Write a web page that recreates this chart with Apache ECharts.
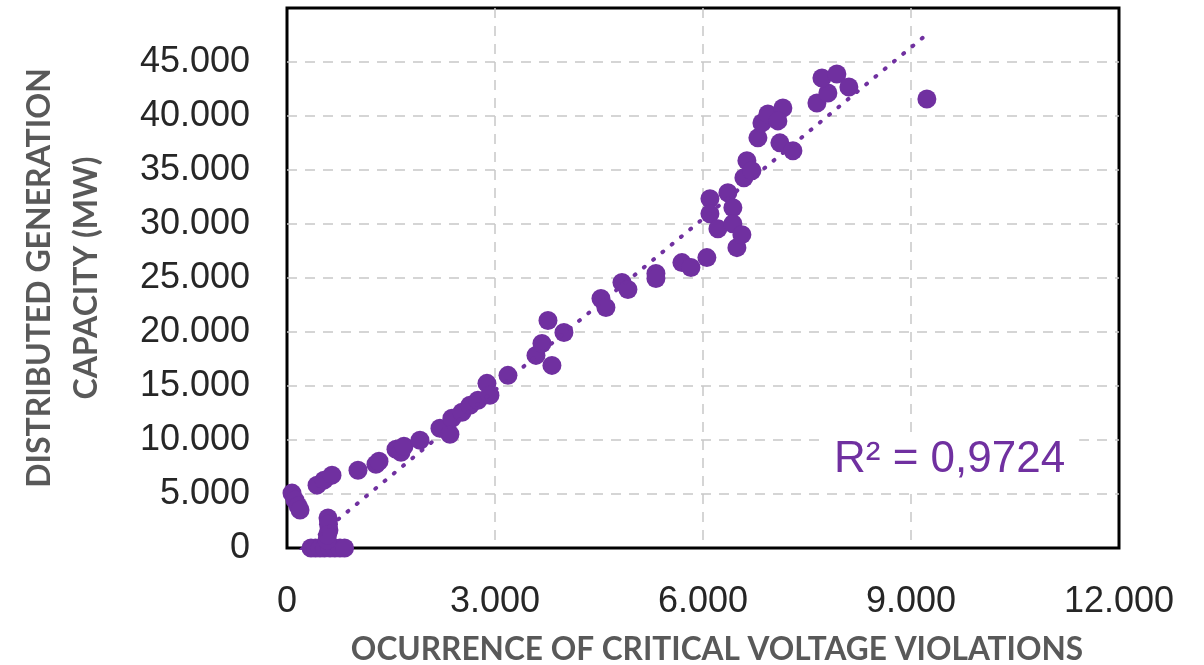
<!DOCTYPE html>
<html>
<head>
<meta charset="utf-8">
<title>DG capacity vs voltage violations</title>
<script src="https://cdn.jsdelivr.net/npm/echarts@6/dist/echarts.min.js"></script>
<style>
  html, body { margin: 0; padding: 0; background: #fff; }
  #chart { width: 1204px; height: 665px; }
</style>
</head>
<body>
<div id="chart"></div>
<script>
// occurrences of critical voltage violations (x) / DG capacity in MW (y)
const violations = [
  72, 115, 160, 188, 433, 534, 649, 1024, 1283, 1327, 1572, 1644, 1687, 1918,
  2206, 2350, 2379, 2524, 2639, 2754, 2884, 2927, 3187, 3591, 3677, 3821,
  3764, 3994, 4528, 4600, 4831, 4917, 5321, 5321, 5696, 5826, 6056, 6100,
  6100, 6215, 6359, 6431, 6431, 6489, 6561, 6633, 6590, 6705, 6792, 6850,
  6936, 7152, 7080, 7109, 7297, 7643, 7801, 7715, 7931, 8104, 9229,
  346, 410, 476, 540, 620, 690, 764, 830, 591, 605, 576, 598, 585
];
const capacity = [
  5082, 4435, 3900, 3511, 5821, 6283, 6745, 7207, 7762, 8039, 9148, 8870, 9425, 9979,
  11088, 10534, 12012, 12566, 13213, 13675, 15246, 14137, 15985, 17833, 18942, 16909,
  21067, 19958, 23100, 22268, 24578, 23932, 25410, 24948, 26426, 25964, 26888, 32340,
  30954, 29568, 32894, 31508, 30030, 27812, 29014, 35851, 34280, 34927, 37976, 39362,
  40194, 40748, 39547, 37514, 36775, 41210, 42134, 43520, 43890, 42689, 41580,
  0, 0, 0, 0, 0, 0, 0, 0, 2772, 1663, 740, 2200, 1200
];

// linear trend line, R² shown as text
const trendSlope = 5.289;
const trendIntercept = -1248;
const rSquaredText = 'R² = 0,9724';

const xTicks = [0, 3000, 6000, 9000, 12000];
const yTicks = [0, 5000, 10000, 15000, 20000, 25000, 30000, 35000, 40000, 45000];

const purple = '#7030A0';
const points = violations.map((x, i) => [x, capacity[i]]);
const xMin = Math.min(...violations);
const xMax = Math.max(...violations);
const trend = [xMin, xMax].map(x => [x, trendSlope * x + trendIntercept]);

// 45000 -> "45.000"
function fmt(v) {
  if (v === 0) return '0';
  return String(Math.round(v)).replace(/\B(?=(\d{3})+(?!\d))/g, '.');
}

const gridLine = {
  showMinLine: false,
  showMaxLine: false,
  lineStyle: { color: '#c8c8c8', width: 1.5, type: [10, 8] }
};

const chart = echarts.init(document.getElementById('chart'));
chart.setOption({
  backgroundColor: '#fff',
  animation: false,
  grid: {
    left: 287,
    top: 8,
    right: 85,
    bottom: 117,
    outerBoundsMode: 'none',
    show: true,
    borderColor: '#000',
    borderWidth: 3
  },
  xAxis: {
    type: 'value',
    min: 0,
    max: 12000,
    interval: 3000,
    name: 'OCURRENCE OF CRITICAL VOLTAGE VIOLATIONS',
    nameLocation: 'middle',
    nameGap: 86,
    nameTextStyle: {
      fontFamily: 'Lato',
      fontWeight: 'bold',
      fontSize: 31.6,
      color: '#595959',
      padding: [0, 0, 0, 28]
    },
    axisLine: { show: false },
    axisTick: { show: false },
    axisLabel: {
      margin: 36,
      fontFamily: 'Liberation Sans',
      fontSize: 36,
      color: '#262626',
      formatter: v => (xTicks.includes(v) ? fmt(v) : '')
    },
    splitLine: gridLine
  },
  yAxis: {
    type: 'value',
    min: 0,
    max: 50000,
    interval: 5000,
    name: 'DISTRIBUTED GENERATION\nCAPACITY (MW)',
    nameLocation: 'middle',
    nameRotate: 90,
    nameGap: 177,
    nameTextStyle: {
      fontFamily: 'Lato',
      fontWeight: 'bold',
      fontSize: 32,
      lineHeight: 47,
      color: '#595959'
    },
    axisLine: { show: false },
    axisTick: { show: false },
    axisLabel: {
      margin: 37,
      fontFamily: 'Liberation Sans',
      fontSize: 36,
      color: '#262626',
      formatter: v => (yTicks.includes(v) ? fmt(v) : '')
    },
    splitLine: gridLine
  },
  graphic: [
    {
      type: 'text',
      left: 820,
      top: 432,
      z: 100,
      style: {
        text: rSquaredText,
        font: '44px "Liberation Sans"',
        fill: purple,
        backgroundColor: '#fff',
        padding: [6, 14, 6, 14]
      }
    }
  ],
  series: [
    {
      // trend line
      type: 'line',
      data: trend,
      symbol: 'none',
      silent: true,
      clip: true,
      z: 3,
      lineStyle: {
        color: purple,
        width: 4,
        type: [1, 11],
        cap: 'round'
      }
    },
    {
      type: 'scatter',
      data: points,
      symbol: 'circle',
      symbolSize: 19,
      clip: false,
      z: 2,
      itemStyle: { color: purple, opacity: 1 }
    }
  ]
});
</script>
</body>
</html>
